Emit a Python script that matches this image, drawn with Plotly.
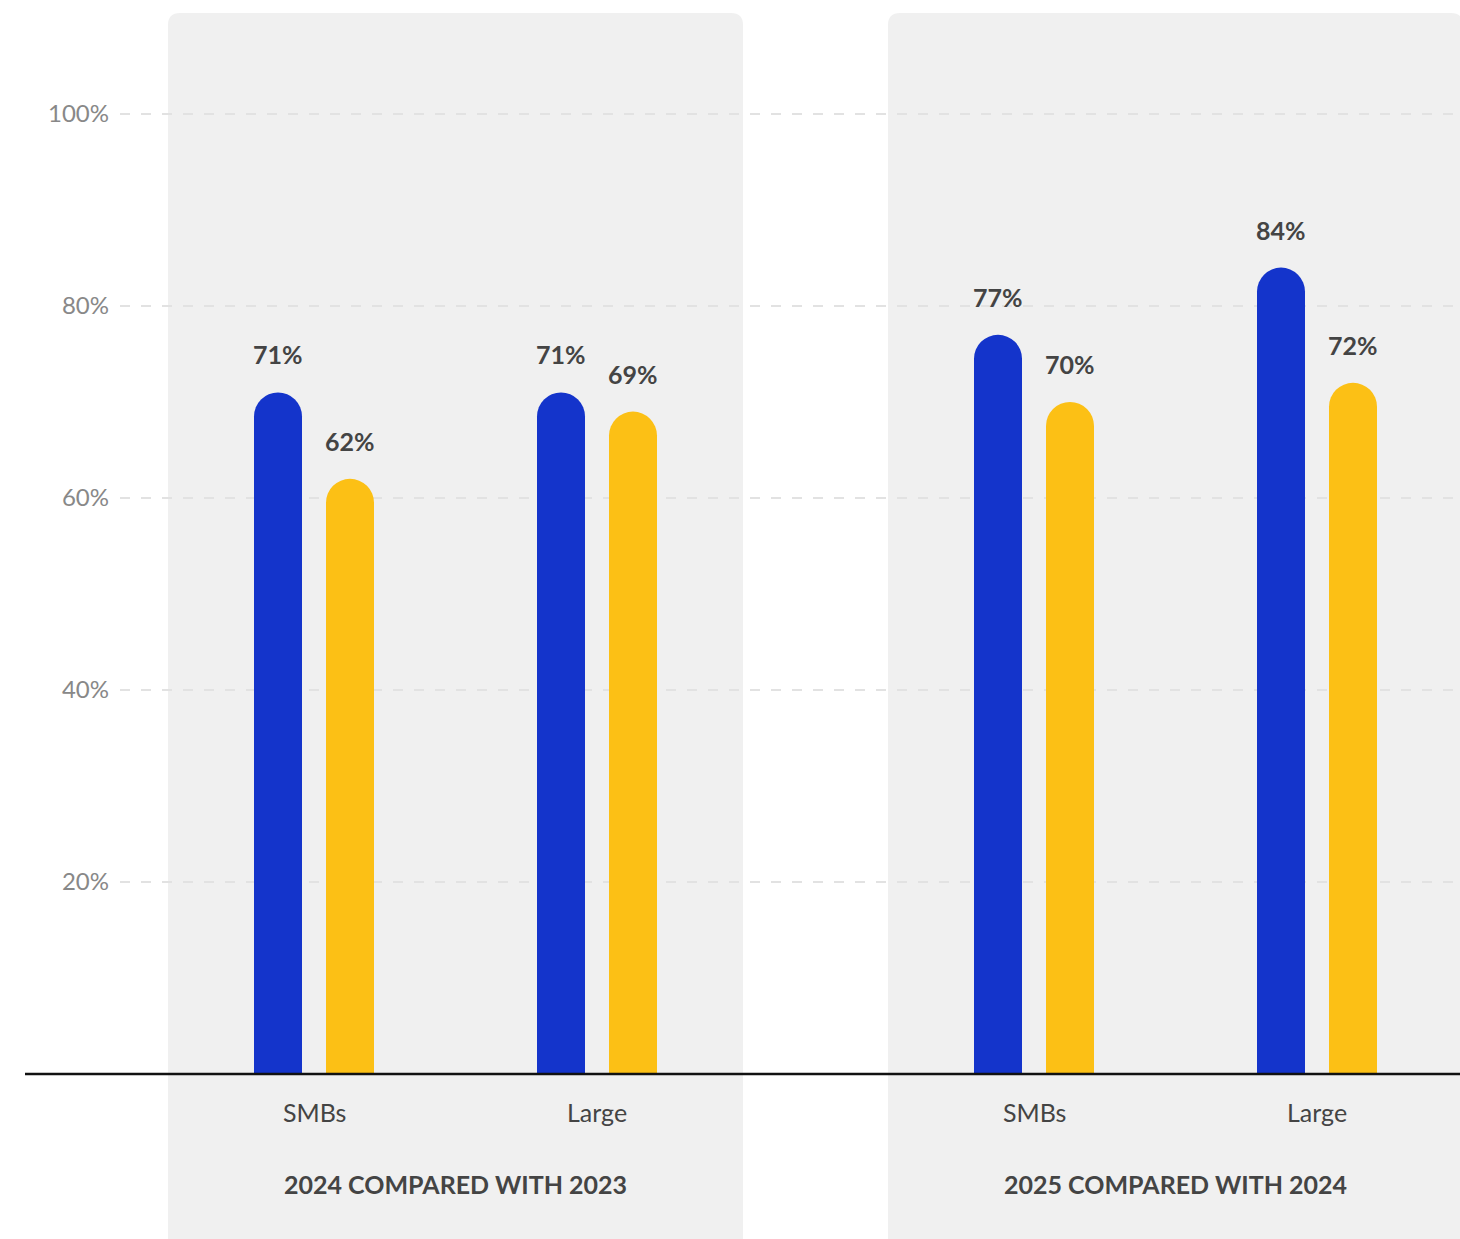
import plotly.graph_objects as go

# ---- data ----
groups = ["2024 COMPARED WITH 2023", "2025 COMPARED WITH 2024"]
categories = ["SMBs", "Large"]
blue_values = [71, 71, 77, 84]      # group 1: SMBs, Large; group 2: SMBs, Large
yellow_values = [62, 69, 70, 72]
y_ticks = [20, 40, 60, 80, 100]
y_tick_labels = ["20%", "40%", "60%", "80%", "100%"]

# ---- layout constants (x in pixel-like units) ----
W, H = 1460, 1239
PLOT_LEFT = 120
PX_PER_UNIT = 9.6
ZERO_PX = 1074
Y_MIN = -(H - ZERO_PX) / PX_PER_UNIT
Y_MAX = ZERO_PX / PX_PER_UNIT
PANEL_LEFT = [168, 888]
PANEL_WIDTH = 575
PANEL_TOP_PX = 13
CAT_OFFSETS = [146, 429]
BAR_OFFSET = 36
BAR_WIDTH = 48

BLUE = "#1434CB"
YELLOW = "#FCC015"
PANEL = "#F0F0F0"
TEXT = "#444444"
FONT = "Lato"

cat_x, cat_names = [], []
for p in PANEL_LEFT:
    for off, name in zip(CAT_OFFSETS, categories):
        cat_x.append(p + off)
        cat_names.append(name)

blue_x = [c - BAR_OFFSET for c in cat_x]
yellow_x = [c + BAR_OFFSET for c in cat_x]

fig = go.Figure()
fig.add_trace(go.Bar(x=blue_x, y=blue_values, width=BAR_WIDTH,
                     marker=dict(color=BLUE, cornerradius=BAR_WIDTH / 2, line=dict(width=0)),
                     hoverinfo="y", showlegend=False))
fig.add_trace(go.Bar(x=yellow_x, y=yellow_values, width=BAR_WIDTH,
                     marker=dict(color=YELLOW, cornerradius=BAR_WIDTH / 2, line=dict(width=0)),
                     hoverinfo="y", showlegend=False))

# rounded-top background panels
shapes = []
r_px = 12
rx, ry = r_px, r_px / PX_PER_UNIT
top = (ZERO_PX - PANEL_TOP_PX) / PX_PER_UNIT
bottom = Y_MIN - 5
for p in PANEL_LEFT:
    x0, x1 = p, p + PANEL_WIDTH
    path = (f"M {x0},{bottom} L {x0},{top - ry} Q {x0},{top} {x0 + rx},{top} "
            f"L {x1 - rx},{top} Q {x1},{top} {x1},{top - ry} L {x1},{bottom} Z")
    shapes.append(dict(type="path", path=path, xref="x", yref="y",
                       fillcolor=PANEL, line=dict(width=0), layer="below"))

# baseline axis line
plot_w = W - PLOT_LEFT
zero_paper = (0 - Y_MIN) / (Y_MAX - Y_MIN)
shapes.append(dict(type="line", xref="paper", yref="paper",
                   x0=(25 - PLOT_LEFT) / plot_w, x1=1.0, y0=zero_paper, y1=zero_paper,
                   line=dict(color="#111111", width=2.5), layer="above"))

annotations = []
# value labels above bars
for xs, vals in ((blue_x, blue_values), (yellow_x, yellow_values)):
    for x, v in zip(xs, vals):
        annotations.append(dict(x=x, y=v, xref="x", yref="y", text=f"<b>{v}%</b>",
                                showarrow=False, yanchor="bottom", yshift=21,
                                font=dict(family=FONT, size=25, color=TEXT)))
# category labels
for x, name in zip(cat_x, cat_names):
    annotations.append(dict(x=x, y=0, xref="x", yref="y", text=name, showarrow=False,
                            yanchor="middle", yshift=-38,
                            font=dict(family=FONT, size=25, color=TEXT)))
# group titles
for p, g in zip(PANEL_LEFT, groups):
    annotations.append(dict(x=p + (CAT_OFFSETS[0] + CAT_OFFSETS[1]) / 2, y=0, xref="x", yref="y",
                            text=f"<b>{g}</b>", showarrow=False, yanchor="middle", yshift=-110,
                            font=dict(family=FONT, size=25, color=TEXT)))

fig.update_layout(
    width=W, height=H,
    margin=dict(l=PLOT_LEFT, r=0, t=0, b=0),
    paper_bgcolor="white", plot_bgcolor="white",
    shapes=shapes, annotations=annotations,
    barmode="overlay", showlegend=False,
    xaxis=dict(range=[PLOT_LEFT, W], showgrid=False, zeroline=False, showticklabels=False,
               showline=False, fixedrange=True),
    yaxis=dict(range=[Y_MIN, Y_MAX], tickmode="array", tickvals=y_ticks, ticktext=y_tick_labels,
               showgrid=True, gridcolor="#E2E2E2", gridwidth=2, griddash="10px,11px",
               zeroline=False, showline=False, ticks="", ticklabelstandoff=10,
               tickfont=dict(family=FONT, size=24, color="#888888"), fixedrange=True),
)

fig.write_html("out.html")
